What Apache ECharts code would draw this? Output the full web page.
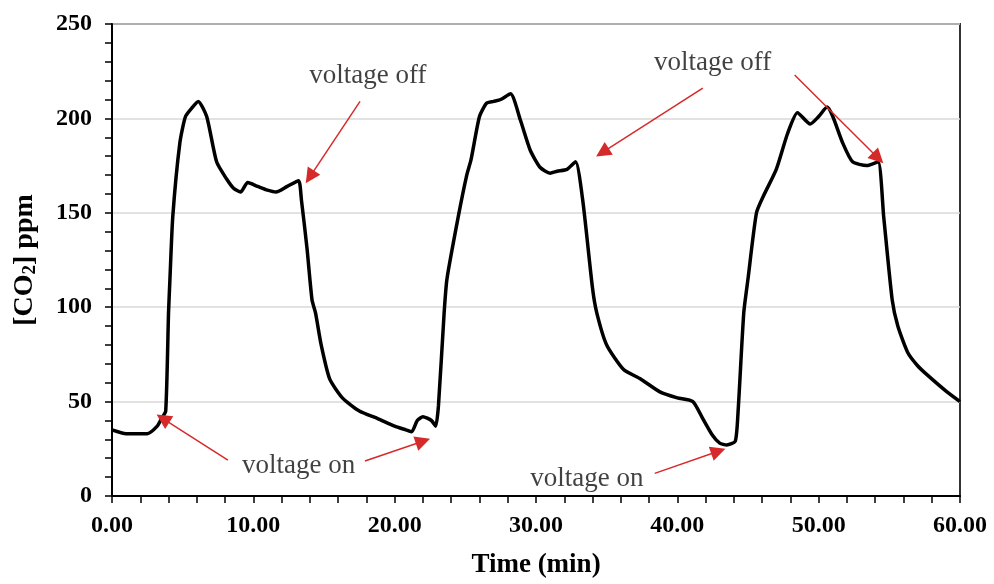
<!DOCTYPE html>
<html>
<head>
<meta charset="utf-8">
<script src="https://cdn.jsdelivr.net/npm/echarts@6/dist/echarts.min.js"></script>
<style>
  html, body { margin: 0; padding: 0; background: #fff; }
  #co2Chart { width: 994px; height: 584px; }
</style>
</head>
<body>
<div id="co2Chart"></div>
<script>
const timeMin = [0, 1.0, 2.0, 2.5, 3.2, 3.5, 3.8, 4.0, 4.1, 4.3, 4.8, 5.2, 5.7, 6.1, 6.7, 7.4, 8.1, 8.6, 9.1, 9.6,
  10.3, 11.0, 11.6, 12.4, 13.2, 13.4, 13.8, 14.15, 14.4, 14.8, 15.4, 16.3, 17.5, 18.8, 20.0, 20.8, 21.2, 21.6, 22.0,
  22.6, 22.9, 23.1, 23.5, 23.7, 24.5, 25.1, 25.4, 26.0, 26.5, 27.0, 27.5, 28.2, 28.9, 29.6, 30.3, 31.0, 31.5, 32.2,
  32.8, 33.3, 34.0, 34.3, 35.0, 36.2, 37.4, 38.8, 40.0, 41.1, 41.8, 42.5, 43.0, 43.5, 44.1, 44.3, 44.7, 45.0, 45.6,
  46.1, 47.0, 47.8, 48.5, 49.4, 50.0, 50.6, 51.0, 51.7, 52.4, 53.4, 54.2, 54.6, 55.2, 55.6, 56.3, 57.0, 57.7, 59.1, 60.0];
const co2Ppm = [35, 33, 33, 33, 37, 41, 45, 97, 115, 148, 187, 201, 206, 209, 201, 177, 168, 163, 161, 166,
  164, 162, 161, 164, 167, 157, 131, 104, 97, 80, 62, 52, 45, 41, 37, 35, 34, 40, 42,
  40, 37, 48, 97, 115, 148, 170, 178, 201, 208, 209, 210, 213, 199, 183, 174, 171, 172, 173,
  177, 157, 110, 97, 80, 67, 62, 55, 52, 50, 41, 32, 28, 27, 29, 45, 97, 115, 150,
  159, 173, 192, 203, 197, 201, 206, 201, 187, 177, 175, 177, 148, 104, 90, 76, 69, 64, 55, 50];

// annotation texts [time, ppm, text]
const noteTexts = [
  [18.1, 222.6, 'voltage off'],
  [42.5, 229.4, 'voltage off'],
  [13.2, 15.8, 'voltage on'],
  [33.6, 9.0, 'voltage on']
];
// arrows [fromTime, fromPpm, toTime, toPpm]
const noteArrows = [
  [17.55, 209, 14.0, 169],
  [41.8, 216, 34.7, 182],
  [48.3, 223, 54.2, 179],
  [8.2, 19, 3.6, 41],
  [17.9, 18.5, 22.0, 29],
  [38.4, 12, 42.9, 23.7]
];

const xTicks = { min: 0, max: 60, interval: 10 };
const yTicks = { min: 0, max: 250, interval: 50 };

const serif = '"Liberation Serif", "Times New Roman", serif';

const chart = echarts.init(document.getElementById('co2Chart'));

const curve = timeMin.map((t, i) => [t, co2Ppm[i]]);

const option = {
  animation: false,
  backgroundColor: '#fff',
  grid: {
    left: 112, right: 34, top: 24, bottom: 86,
    show: true, borderColor: '#333', borderWidth: 2
  },
  xAxis: {
    type: 'value',
    min: xTicks.min, max: xTicks.max, interval: xTicks.interval,
    name: 'Time (min)',
    nameLocation: 'middle',
    nameGap: 56,
    nameTextStyle: { fontFamily: serif, fontWeight: 'bold', fontSize: 27, color: '#000' },
    axisLine: { lineStyle: { color: '#000', width: 2 } },
    axisTick: { length: 7, lineStyle: { color: '#000', width: 1.5 } },
    minorTick: { show: true, splitNumber: 5, length: 7, lineStyle: { color: '#000', width: 1.5 } },
    splitLine: { show: false },
    axisLabel: {
      fontFamily: serif, fontWeight: 'bold', fontSize: 24, color: '#000', margin: 18,
      formatter: v => v.toFixed(2)
    }
  },
  yAxis: {
    type: 'value',
    min: yTicks.min, max: yTicks.max, interval: yTicks.interval,
    name: '[CO{sub|2}] ppm',
    nameLocation: 'middle',
    nameGap: 72,
    nameRotate: 90,
    nameTextStyle: {
      fontFamily: serif, fontWeight: 'bold', fontSize: 28, color: '#000',
      rich: {
        sub: { fontFamily: serif, fontWeight: 'bold', fontSize: 19, color: '#000', verticalAlign: 'bottom', padding: [12, 0, 0, 0] }
      }
    },
    axisLine: { show: true, lineStyle: { color: '#000', width: 2 } },
    axisTick: { show: true, length: 7, lineStyle: { color: '#000', width: 1.5 } },
    minorTick: { show: true, splitNumber: 5, length: 7, lineStyle: { color: '#000', width: 1.5 } },
    splitLine: { show: true, lineStyle: { color: '#d9d9d9', width: 1.5 } },
    axisLabel: { fontFamily: serif, fontWeight: 'bold', fontSize: 24, color: '#000', margin: 20 }
  },
  series: [
    {
      name: 'CO2',
      type: 'line',
      data: curve,
      showSymbol: false,
      symbol: 'none',
      smooth: 0.2,
      lineStyle: { color: '#000', width: 3.5 },
      z: 3
    },
    {
      name: 'arrows',
      type: 'lines',
      coordinateSystem: 'cartesian2d',
      symbol: ['none', 'triangle'],
      symbolSize: [13, 15],
      lineStyle: { color: '#d62a2a', width: 1.5, opacity: 1, curveness: 0 },
      data: noteArrows.map(a => ({ coords: [[a[0], a[1]], [a[2], a[3]]] })),
      silent: true,
      z: 4
    },
    {
      name: 'notes',
      type: 'scatter',
      data: noteTexts.map(n => ({ value: [n[0], n[1]], name: n[2] })),
      symbolSize: 1,
      itemStyle: { color: 'rgba(0,0,0,0)' },
      silent: true,
      label: {
        show: true,
        position: 'inside',
        formatter: p => p.name,
        fontFamily: serif,
        fontSize: 27,
        color: '#111'
      },
      z: 5
    }
  ]
};

chart.setOption(option);
</script>
</body>
</html>
